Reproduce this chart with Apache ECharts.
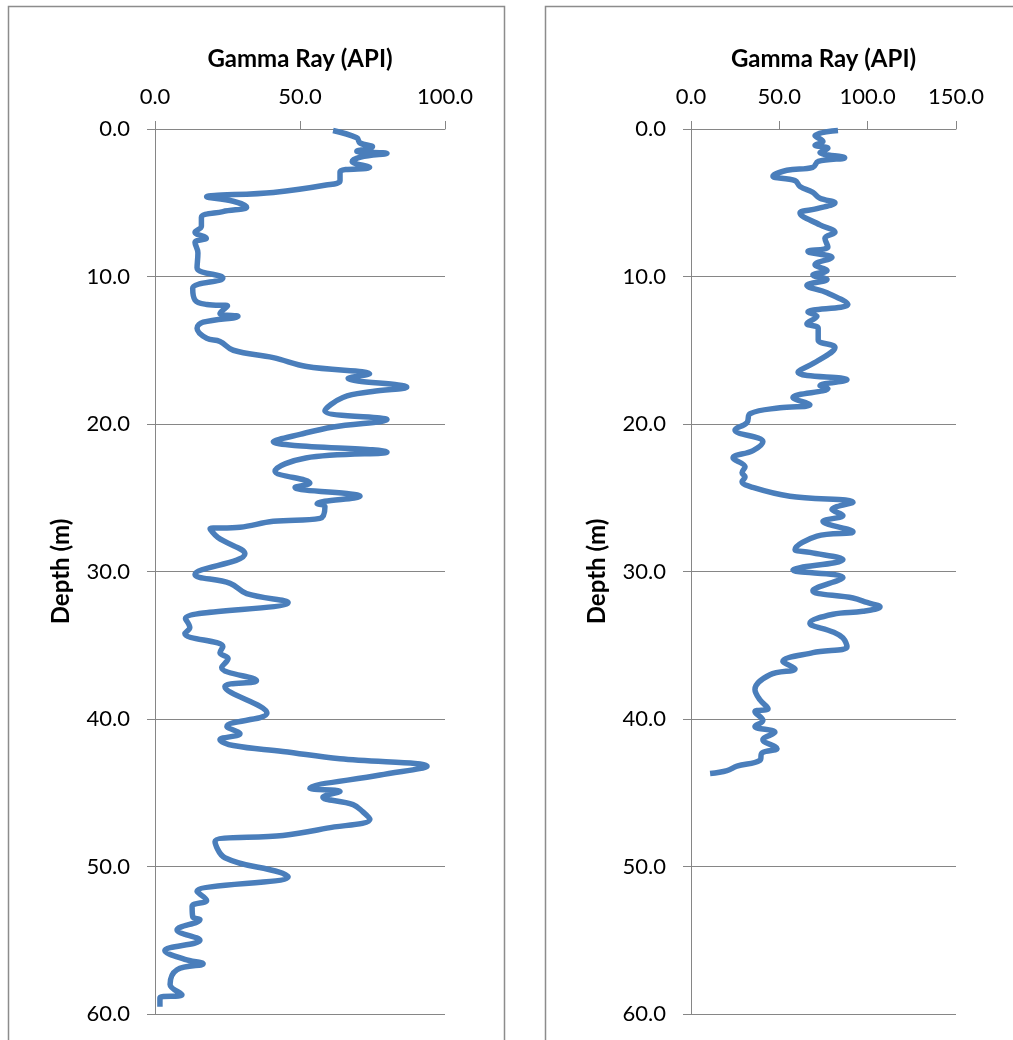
<!DOCTYPE html>
<html>
<head>
<meta charset="utf-8">
<script src="https://cdn.jsdelivr.net/npm/echarts@6/dist/echarts.min.js"></script>
<style>html,body{margin:0;padding:0;background:#fff;}#c{width:1013px;height:1040px;}</style>
</head>
<body>
<div id="c"></div>
<script>
// Left well
var leftDepth = [0.1,0.6,0.95,1.2,1.5,1.65,1.9,2.2,2.6,2.9,3.5,3.8,4.3,4.6,4.9,5.3,5.6,6.0,6.6,7.0,7.4,7.7,8.4,9.4,10.1,10.8,11.6,11.9,12.0,12.5,12.7,13.1,13.5,14.2,14.4,15.0,15.5,16.1,16.6,16.9,17.5,17.8,18.2,19.1,19.7,20.2,20.7,21.2,21.9,22.3,23.2,24.0,24.3,24.9,25.4,25.6,26.4,26.6,27.0,27.1,27.7,28.8,30.2,30.8,31.5,32.1,33.2,33.8,34.2,35.1,35.5,35.9,36.5,37.4,37.8,39.6,40.5,41.0,41.4,41.8,42.2,42.7,43.2,43.8,44.7,44.9,45.3,45.8,46.3,46.8,47.4,47.9,48.3,49.4,50.4,50.7,51.7,52.3,52.7,53.4,53.6,54.3,55.0,55.7,56.3,56.6,57.0,58.0,58.7,58.9,59.5];
var leftGR = [61.4,69.6,70.7,75,69.6,80,71,68,74,63.8,63.8,59,40.8,17.8,27,31.6,23.4,16,16,13.8,17.7,13.8,14.8,14.5,23.4,13,13.8,17.9,25,22.4,28.6,16.6,14.5,17.9,22.4,27,40.8,52.3,74,66.6,86.8,75,64.8,58.6,80,61.4,50,40.8,80,52,41.4,53.4,48.3,70.7,55.9,58.6,56.9,40.8,29.3,19,21.7,31,13.8,25.9,31.6,45.9,10.5,12,10.3,23.4,22.4,25.2,23,35,24.1,38.6,24.8,29.3,22.4,27,44.1,63.8,93.8,77.6,53.4,63.8,57.9,68.3,71.7,74.1,59.3,44.1,20.7,24.1,43.1,45.9,14.5,17.8,12.8,13,15.5,7.6,15.5,3.4,10.3,16.6,7.6,5.2,9.3,1.7,1.7];
// Right well
var rightDepth = [0.1,0.45,0.85,1.1,1.3,1.6,1.95,2.2,2.6,2.8,3.2,3.5,3.9,4.3,4.7,5.0,5.4,5.7,6.5,7.0,7.4,8.0,8.3,8.7,9.2,9.6,9.9,10.2,10.6,11.1,11.9,12.4,12.7,13.2,13.5,14.3,14.8,15.7,16.5,17.0,17.4,17.6,18.2,18.7,18.9,19.3,19.9,20.4,21.2,21.8,22.3,22.9,23.3,23.6,23.9,24.3,24.9,25.3,25.8,26.2,26.6,27.3,27.6,28.5,28.7,29.2,29.9,30.4,31.3,31.8,32.1,32.4,32.7,32.9,33.5,34.1,34.5,35.1,35.5,36.1,36.6,37.0,38.0,38.7,39.3,39.5,40.1,40.5,40.9,41.4,42.0,42.3,42.8,43.2,43.5,43.7];
var rightGR = [83.2,70.2,74.7,70.2,77.5,73,87,72,69,54.3,46.4,58.9,61.7,69,73,81.5,71.3,61.7,73,81.5,75.8,77.5,66.2,79.8,70.2,77,69,77,65.6,77,88.8,66.2,71.3,65.6,72,72,81.5,72,60.6,88.3,73,77.5,57.7,67.3,50.4,33.4,31.7,24.9,40.7,35.1,23.8,30.6,28.9,30.6,28.9,35,56,91.7,79.8,86,74.7,91.7,71.3,58.9,67.3,86,57.7,86,69,91.7,99.6,107,97.3,80.4,67.3,80.4,86,88.3,69,52,58.9,44.7,36.2,39,43.6,36.2,40.7,36.2,47.5,40.7,48.7,40.2,39,26,20.4,10.8];

var xTitle = 'Gamma Ray (API)';
var yTitle = 'Depth (m)';
var leftXMax = 100, rightXMax = 150, xStep = 50;
var depthMax = 60, depthStep = 10;

function pairs(d, v) { return d.map(function (z, i) { return [v[i], z]; }); }

var FONT = 'Lato';
var AX = '#868686';
function xAxis(idx, max) {
  return {
    gridIndex: idx, type: 'value', position: 'top', min: 0, max: max, interval: xStep,
    name: xTitle, nameLocation: 'middle', nameGap: 58,
    nameTextStyle: { fontFamily: FONT, fontWeight: 'bold', fontSize: 24, color: '#000' },
    axisLine: { show: true, lineStyle: { color: AX, width: 1 } },
    axisTick: { show: true, length: 8, lineStyle: { color: AX } },
    axisLabel: { fontFamily: FONT, fontSize: 22, color: '#000', margin: 21,
      formatter: function (v) { return v.toFixed(1); } },
    splitLine: { show: false }
  };
}
function yAxis(idx) {
  return {
    gridIndex: idx, type: 'value', inverse: true, min: 0, max: depthMax, interval: depthStep,
    name: yTitle, nameLocation: 'middle', nameGap: 82,
    nameTextStyle: { fontFamily: FONT, fontWeight: 'bold', fontSize: 24, color: '#000' },
    axisLine: { show: true, onZero: false, lineStyle: { color: AX, width: 1 } },
    axisTick: { show: true, length: 8, lineStyle: { color: AX } },
    axisLabel: { fontFamily: FONT, fontSize: 22, color: '#000', margin: 25,
      formatter: function (v) { return v.toFixed(1); } },
    splitLine: { show: true, lineStyle: { color: AX, width: 1 } }
  };
}

var chart = echarts.init(document.getElementById('c'), null, { renderer: 'canvas' });
chart.setOption({
  animation: false,
  backgroundColor: '#fff',
  graphic: [
    { type: 'rect', shape: { x: 8.5, y: 6.5, width: 496, height: 1200 }, style: { fill: 'none', stroke: '#8c8c8c', lineWidth: 1.5 }, silent: true },
    { type: 'rect', shape: { x: 545.5, y: 6.5, width: 520, height: 1200 }, style: { fill: 'none', stroke: '#8c8c8c', lineWidth: 1.5 }, silent: true }
  ],
  grid: [
    { left: 155, right: 1013 - 445, top: 129, bottom: 1040 - 1014 },
    { left: 691, right: 1013 - 956, top: 129, bottom: 1040 - 1014 }
  ],
  xAxis: [xAxis(0, leftXMax), xAxis(1, rightXMax)],
  yAxis: [yAxis(0), yAxis(1)],
  series: [
    { type: 'line', xAxisIndex: 0, yAxisIndex: 0, data: pairs(leftDepth, leftGR), smooth: 0.4,
      showSymbol: false, lineStyle: { color: '#4a7ebb', width: 5.5 }, z: 5 },
    { type: 'line', xAxisIndex: 1, yAxisIndex: 1, data: pairs(rightDepth, rightGR), smooth: 0.4,
      showSymbol: false, lineStyle: { color: '#4a7ebb', width: 5.5 }, z: 5 }
  ]
});
</script>
</body>
</html>
